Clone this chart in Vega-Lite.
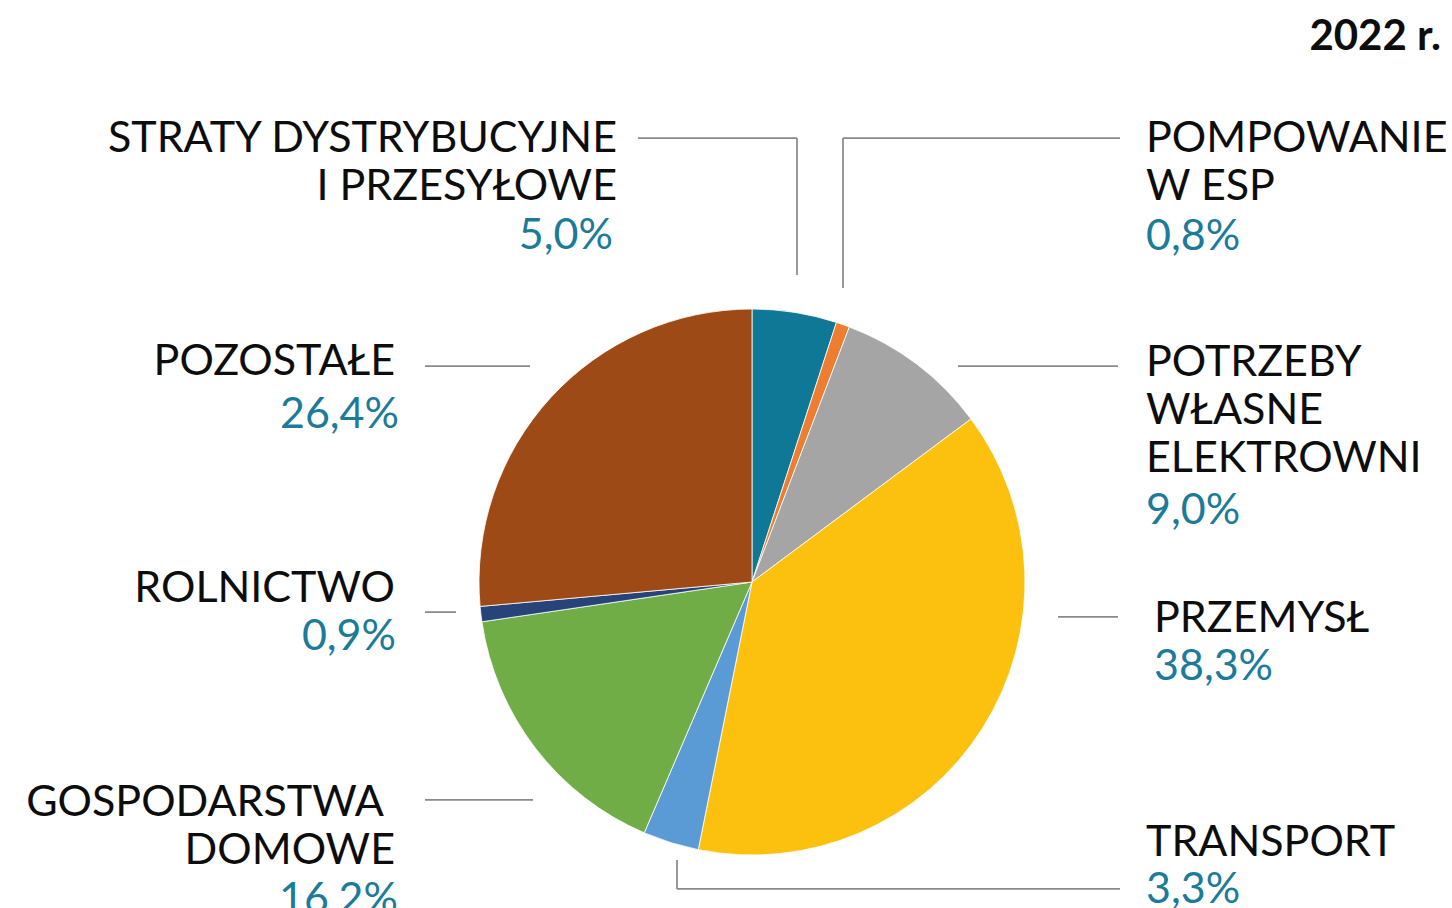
{
  "$schema": "https://vega.github.io/schema/vega-lite/v6.json",
  "width": 1400,
  "height": 1164,
  "autosize": {"type": "none"},
  "padding": {"left": 52, "top": 0, "right": 0, "bottom": 0},
  "background": "white",
  "config": {"view": {"stroke": null}},
  "datasets": {
    "shares": [
      {"ord": 1, "cat": "STRATY DYSTRYBUCYJNE I PRZESYŁOWE", "share": 5.0},
      {"ord": 2, "cat": "POMPOWANIE W ESP", "share": 0.8},
      {"ord": 3, "cat": "POTRZEBY WŁASNE ELEKTROWNI", "share": 9.0},
      {"ord": 4, "cat": "PRZEMYSŁ", "share": 38.3},
      {"ord": 5, "cat": "TRANSPORT", "share": 3.3},
      {"ord": 6, "cat": "GOSPODARSTWA DOMOWE", "share": 16.2},
      {"ord": 7, "cat": "ROLNICTWO", "share": 0.9},
      {"ord": 8, "cat": "POZOSTAŁE", "share": 26.4}
    ],
    "segments": [
      {"x1": -0.4176, "y1": 1.6264, "x2": 0.1648, "y2": 1.6264},
      {"x1": 0.1648, "y1": 1.6264, "x2": 0.1648, "y2": 1.1245},
      {"x1": 0.3333, "y1": 1.6264, "x2": 0.3333, "y2": 1.0769},
      {"x1": 0.3333, "y1": 1.6264, "x2": 1.3480, "y2": 1.6264},
      {"x1": 0.7546, "y1": 0.7912, "x2": 1.3407, "y2": 0.7912},
      {"x1": 1.1209, "y1": -0.1282, "x2": 1.3407, "y2": -0.1282},
      {"x1": -0.2747, "y1": -1.0183, "x2": -0.2747, "y2": -1.1245},
      {"x1": -0.2747, "y1": -1.1245, "x2": 1.3480, "y2": -1.1245},
      {"x1": -1.1978, "y1": -0.7985, "x2": -0.8022, "y2": -0.7985},
      {"x1": -1.1978, "y1": -0.1099, "x2": -1.0842, "y2": -0.1099},
      {"x1": -1.1978, "y1": 0.7912, "x2": -0.8132, "y2": 0.7912}
    ],
    "labels": [
      {"grp": "nameR", "t": "STRATY DYSTRYBUCYJNE\nI PRZESYŁOWE", "lx": -0.4945, "ly": 1.5751},
      {"grp": "nameR", "t": "POZOSTAŁE", "lx": -1.3077, "ly": 0.7582},
      {"grp": "nameR", "t": "ROLNICTWO", "lx": -1.3077, "ly": -0.0733},
      {"grp": "nameR", "t": "GOSPODARSTWA", "lx": -1.3480, "ly": -0.8571},
      {"grp": "nameR", "t": "DOMOWE", "lx": -1.3077, "ly": -1.0330},
      {"grp": "pctR", "t": "5,0%", "lx": -0.5092, "ly": 1.2198},
      {"grp": "pctR", "t": "26,4%", "lx": -1.2930, "ly": 0.5641},
      {"grp": "pctR", "t": "0,9%", "lx": -1.3040, "ly": -0.2491},
      {"grp": "pctR", "t": "16,2%", "lx": -1.2967, "ly": -1.2125},
      {"grp": "nameL", "t": "POMPOWANIE\nW ESP", "lx": 1.4432, "ly": 1.5751},
      {"grp": "nameL", "t": "POTRZEBY\nWŁASNE\nELEKTROWNI", "lx": 1.4432, "ly": 0.7546},
      {"grp": "nameL", "t": "PRZEMYSŁ", "lx": 1.4725, "ly": -0.1832},
      {"grp": "nameL", "t": "TRANSPORT", "lx": 1.4432, "ly": -1.0037},
      {"grp": "pctL", "t": "0,8%", "lx": 1.4432, "ly": 1.2161},
      {"grp": "pctL", "t": "9,0%", "lx": 1.4432, "ly": 0.2125},
      {"grp": "pctL", "t": "38,3%", "lx": 1.4725, "ly": -0.3590},
      {"grp": "pctL", "t": "3,3%", "lx": 1.4432, "ly": -1.1758},
      {"grp": "title", "t": "2022 r.", "lx": 2.5238, "ly": 1.9487}
    ]
  },
  "layer": [
    {
      "data": {"name": "shares"},
      "mark": {"type": "arc", "radius": 273, "stroke": "#ffffff", "strokeWidth": 0.8},
      "encoding": {
        "theta": {"field": "share", "type": "quantitative", "stack": true},
        "order": {"field": "ord", "type": "quantitative"},
        "color": {
          "field": "cat",
          "type": "nominal",
          "legend": null,
          "scale": {
            "domain": ["STRATY DYSTRYBUCYJNE I PRZESYŁOWE", "POMPOWANIE W ESP", "POTRZEBY WŁASNE ELEKTROWNI", "PRZEMYSŁ", "TRANSPORT", "GOSPODARSTWA DOMOWE", "ROLNICTWO", "POZOSTAŁE"],
            "range": ["#0f7896", "#ed7d31", "#a5a5a5", "#fbc10e", "#5b9bd5", "#70ad47", "#264478", "#9e4a16"]
          }
        }
      }
    },
    {
      "data": {"name": "segments"},
      "mark": {"type": "rule", "color": "#8a8a8a", "strokeWidth": 1.75},
      "encoding": {
        "x": {"field": "x1", "type": "quantitative", "scale": {"domain": [-2.564, 2.564], "nice": false, "zero": false}, "axis": null},
        "y": {"field": "y1", "type": "quantitative", "scale": {"domain": [-2.132, 2.132], "nice": false, "zero": false}, "axis": null},
        "x2": {"field": "x2"},
        "y2": {"field": "y2"}
      }
    },
    {
      "data": {"name": "labels"},
      "transform": [{"filter": "datum.grp == 'nameR'"}],
      "mark": {"type": "text", "align": "right", "baseline": "alphabetic", "font": "Lato", "fontSize": 43, "lineBreak": "\n", "lineHeight": 48, "color": "#0d0d0d"},
      "encoding": {
        "x": {"field": "lx", "type": "quantitative", "axis": null},
        "y": {"field": "ly", "type": "quantitative", "axis": null},
        "text": {"field": "t"}
      }
    },
    {
      "data": {"name": "labels"},
      "transform": [{"filter": "datum.grp == 'nameL'"}],
      "mark": {"type": "text", "align": "left", "baseline": "alphabetic", "font": "Lato", "fontSize": 43, "lineBreak": "\n", "lineHeight": 48, "color": "#0d0d0d"},
      "encoding": {
        "x": {"field": "lx", "type": "quantitative", "axis": null},
        "y": {"field": "ly", "type": "quantitative", "axis": null},
        "text": {"field": "t"}
      }
    },
    {
      "data": {"name": "labels"},
      "transform": [{"filter": "datum.grp == 'pctR'"}],
      "mark": {"type": "text", "align": "right", "baseline": "alphabetic", "font": "Lato", "fontSize": 43, "fontWeight": 400, "color": "#1b7b99"},
      "encoding": {
        "x": {"field": "lx", "type": "quantitative", "axis": null},
        "y": {"field": "ly", "type": "quantitative", "axis": null},
        "text": {"field": "t"}
      }
    },
    {
      "data": {"name": "labels"},
      "transform": [{"filter": "datum.grp == 'pctL'"}],
      "mark": {"type": "text", "align": "left", "baseline": "alphabetic", "font": "Lato", "fontSize": 43, "fontWeight": 400, "color": "#1b7b99"},
      "encoding": {
        "x": {"field": "lx", "type": "quantitative", "axis": null},
        "y": {"field": "ly", "type": "quantitative", "axis": null},
        "text": {"field": "t"}
      }
    },
    {
      "data": {"name": "labels"},
      "transform": [{"filter": "datum.grp == 'title'"}],
      "mark": {"type": "text", "align": "right", "baseline": "alphabetic", "font": "Lato", "fontSize": 42, "fontWeight": "bold", "color": "#0d0d0d"},
      "encoding": {
        "x": {"field": "lx", "type": "quantitative", "axis": null},
        "y": {"field": "ly", "type": "quantitative", "axis": null},
        "text": {"field": "t"}
      }
    }
  ]
}
